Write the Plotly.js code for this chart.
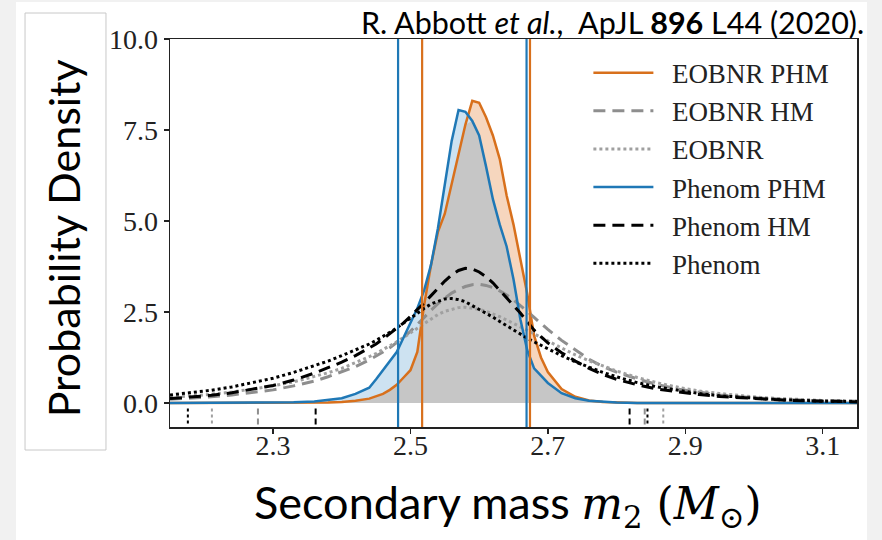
<!DOCTYPE html>
<html>
<head>
<meta charset="utf-8">
<script src="https://cdn.plot.ly/plotly-3.0.1.min.js"></script>
<style>html,body{margin:0;padding:0;background:#f1f1f1;}#chart{width:882px;height:540px;}</style>
</head>
<body>
<div id="chart"></div>
<script>
// Secondary mass grid (M_sun)
const massGrid = [2.15,2.18,2.21,2.24,2.27,2.30,2.33,2.36,2.38,2.40,
  2.42,2.44,2.45,2.46,2.47,2.48,2.49,2.50,2.51,2.52,
  2.53,2.54,2.55,2.56,2.57,2.58,2.59,2.60,2.61,2.62,
  2.63,2.64,2.65,2.66,2.67,2.68,2.69,2.70,2.72,2.74,
  2.76,2.78,2.80,2.83,2.86,2.89,2.92,2.95,2.98,3.01,
  3.04,3.07,3.10,3.15];

const eobnrPHM = [0,0,0,0,0,0,0,0,0.01,0.03,
  0.06,0.12,0.18,0.25,0.36,0.5,0.7,0.9,1.4,2.7,
  3.8,4.7,5.2,6.0,6.8,7.65,8.3,8.25,7.85,7.35,
  6.7,5.7,4.9,4.0,3.0,1.85,1.25,0.85,0.38,0.17,
  0.07,0.03,0.01,0,0,0,0,0,0,0,
  0,0,0,0];

const eobnrHM = [0.1,0.13,0.17,0.22,0.28,0.36,0.47,0.6,0.72,0.85,
  1.0,1.18,1.28,1.4,1.52,1.65,1.8,1.97,2.15,2.35,
  2.55,2.73,2.88,3.02,3.12,3.2,3.25,3.26,3.23,3.17,
  3.08,2.97,2.83,2.68,2.52,2.35,2.18,2.02,1.72,1.45,
  1.2,1.0,0.85,0.66,0.5,0.38,0.29,0.22,0.17,0.13,
  0.1,0.08,0.06,0.05];

const eobnr = [0.15,0.19,0.24,0.3,0.38,0.47,0.58,0.72,0.83,0.95,
  1.1,1.27,1.36,1.46,1.57,1.68,1.8,1.93,2.06,2.19,
  2.32,2.43,2.52,2.58,2.62,2.63,2.61,2.57,2.52,2.45,
  2.37,2.28,2.19,2.1,2.0,1.9,1.8,1.7,1.5,1.32,
  1.16,1.01,0.88,0.7,0.55,0.43,0.33,0.26,0.2,0.15,
  0.12,0.09,0.07,0.05];

const phenomPHM = [0,0,0,0,0,0.01,0.02,0.04,0.08,0.13,
  0.25,0.42,0.65,0.9,1.12,1.4,1.8,2.2,2.6,3.1,
  3.8,4.8,6.0,7.2,8.05,8.0,7.75,7.35,6.5,5.6,
  4.9,4.3,3.4,2.3,1.45,0.95,0.75,0.55,0.27,0.13,
  0.06,0.03,0.01,0,0,0,0,0,0,0,
  0,0,0,0];

const phenomHM = [0.12,0.16,0.21,0.28,0.37,0.48,0.63,0.82,0.97,1.12,
  1.3,1.5,1.62,1.76,1.9,2.05,2.2,2.38,2.56,2.75,
  2.95,3.15,3.35,3.52,3.64,3.7,3.68,3.6,3.47,3.3,
  3.1,2.9,2.68,2.47,2.25,2.0,1.82,1.65,1.38,1.15,
  0.95,0.78,0.65,0.5,0.38,0.3,0.23,0.18,0.14,0.11,
  0.08,0.06,0.05,0.03];

const phenom = [0.22,0.28,0.35,0.44,0.55,0.68,0.84,1.02,1.15,1.3,
  1.45,1.62,1.72,1.82,1.94,2.06,2.2,2.34,2.48,2.6,
  2.72,2.8,2.86,2.87,2.84,2.78,2.68,2.58,2.47,2.36,
  2.24,2.12,2.0,1.88,1.78,1.68,1.58,1.48,1.3,1.13,
  0.98,0.84,0.72,0.56,0.44,0.34,0.26,0.2,0.15,0.12,
  0.09,0.07,0.05,0.04];

// 90% credible bounds
const eobnrPHMBounds = [2.517, 2.674];
const phenomPHMBounds = [2.482, 2.669];
const eobnrHMBounds = [2.278, 2.841];
const eobnrBounds = [2.211, 2.868];
const phenomHMBounds = [2.362, 2.819];
const phenomBounds = [2.176, 2.845];

const seriesNames = ['EOBNR PHM','EOBNR HM','EOBNR','Phenom PHM','Phenom HM','Phenom'];
const xTicks = [2.3, 2.5, 2.7, 2.9, 3.1];
const yTicks = [0, 2.5, 5, 7.5, 10];

const ORANGE = '#d8701c', BLUE = '#1f78b6', GRAYD = '#8e8e8e', GRAYT = '#a0a0a0', BLACK = '#000000';
const GAP = '\u2002';

const overlap = massGrid.map((_, i) => Math.min(eobnrPHM[i], phenomPHM[i]));

function rug(bounds, color, dash, width) {
  return {x: [bounds[0], bounds[0], null, bounds[1], bounds[1]],
          y: [-0.15, -0.62, null, -0.15, -0.62],
          mode: 'lines', line: {color: color, dash: dash, width: width},
          showlegend: false, hoverinfo: 'skip'};
}

const traces = [
  {x: massGrid, y: eobnrPHM, fill: 'tozeroy', fillcolor: '#f6d6be', mode: 'none', showlegend: false, hoverinfo: 'skip'},
  {x: massGrid, y: phenomPHM, fill: 'tozeroy', fillcolor: '#cde2f1', mode: 'none', showlegend: false, hoverinfo: 'skip'},
  {x: massGrid, y: overlap, fill: 'tozeroy', fillcolor: '#c6c6c6', mode: 'none', showlegend: false, hoverinfo: 'skip'},
  {x: massGrid, y: eobnrPHM, name: GAP + seriesNames[0], mode: 'lines', line: {color: ORANGE, width: 2.5}},
  {x: massGrid, y: eobnrHM, name: GAP + seriesNames[1], mode: 'lines', line: {color: GRAYD, width: 3, dash: '12px,7px'}},
  {x: massGrid, y: eobnr, name: GAP + seriesNames[2], mode: 'lines', line: {color: GRAYT, width: 3, dash: 'dot'}},
  {x: massGrid, y: phenomPHM, name: GAP + seriesNames[3], mode: 'lines', line: {color: BLUE, width: 2.5}},
  {x: massGrid, y: phenomHM, name: GAP + seriesNames[4], mode: 'lines', line: {color: BLACK, width: 3, dash: '12px,7px'}},
  {x: massGrid, y: phenom, name: GAP + seriesNames[5], mode: 'lines', line: {color: BLACK, width: 3, dash: 'dot'}},
  rug(eobnrHMBounds, GRAYD, '6px,4px', 2),
  rug(eobnrBounds, GRAYT, 'dot', 2),
  rug(phenomHMBounds, BLACK, '6px,4px', 2),
  rug(phenomBounds, BLACK, 'dot', 2)
];

const shapes = [
  {type: 'rect', xref: 'paper', yref: 'paper', x0: -0.2242, x1: 1.0146, y0: -0.30, y1: 1.0954, fillcolor: '#ffffff', line: {width: 0}, layer: 'below'},
  {type: 'rect', xref: 'paper', yref: 'paper', x0: -0.211, x1: -0.0932, y0: -0.0593, y1: 1.067, fillcolor: 'rgba(0,0,0,0)', line: {color: '#c8c8c8', width: 1}, layer: 'below'}
];
phenomPHMBounds.forEach(b => shapes.push({type: 'line', xref: 'x', yref: 'paper', x0: b, x1: b, y0: 0, y1: 1, line: {color: BLUE, width: 2.2}}));
eobnrPHMBounds.forEach(b => shapes.push({type: 'line', xref: 'x', yref: 'paper', x0: b, x1: b, y0: 0, y1: 1, line: {color: ORANGE, width: 2.2}}));

const tickFont = {family: '"Liberation Serif", serif', size: 28, color: '#222'};

const layout = {
  width: 882, height: 540,
  paper_bgcolor: '#f1f1f1', plot_bgcolor: '#ffffff',
  margin: {l: 170, r: 25, t: 39, b: 113},
  showlegend: true,
  legend: {x: 0.609, y: 0.975, xanchor: 'left', yanchor: 'top', bgcolor: 'rgba(0,0,0,0)',
           font: {family: '"Liberation Serif", serif', size: 27, color: '#222'}, itemwidth: 60, traceorder: 'normal'},
  xaxis: {range: [2.15, 3.15], tickvals: xTicks, ticktext: xTicks.map(v => v.toFixed(1)),
          ticks: 'outside', ticklen: 5, tickwidth: 1.5, tickcolor: '#222', ticklabelstandoff: -12,
          showline: true, linecolor: '#222', linewidth: 1.5, mirror: true,
          showgrid: false, zeroline: false, tickfont: tickFont},
  yaxis: {range: [-0.66, 10], tickvals: yTicks, ticktext: yTicks.map(v => v.toFixed(1)),
          ticks: 'outside', ticklen: 5, tickwidth: 1.5, tickcolor: '#222',
          showline: true, linecolor: '#222', linewidth: 1.5, mirror: true,
          showgrid: false, zeroline: false, tickfont: tickFont},
  shapes: shapes,
  annotations: [
    {text: 'Probability Density', xref: 'paper', yref: 'paper', x: -0.155, y: 0.485, xanchor: 'center', yanchor: 'middle',
     textangle: -90, showarrow: false, font: {family: 'Lato, sans-serif', size: 43, color: '#000'}},
    {text: 'Secondary mass <span style="font-family:\'DejaVu Serif\',serif;font-size:44px"><i>m</i><sub>2</sub> (<i>M</i><sub>⊙</sub>)</span>',
     xref: 'paper', yref: 'paper', x: 0.492, y: -0.202, xanchor: 'center', yanchor: 'middle',
     showarrow: false, font: {family: 'Lato, sans-serif', size: 45, color: '#000'}},
    {text: 'R. Abbott <i>et al.</i>,  ApJL <b>896</b> L44 (2020).', xref: 'paper', yref: 'paper', x: 1.013, y: 1.044,
     xanchor: 'right', yanchor: 'middle', showarrow: false, font: {family: 'Lato, sans-serif', size: 30.5, color: '#000'}}
  ]
};

Plotly.newPlot('chart', traces, layout, {displayModeBar: false, staticPlot: true});
</script>
</body>
</html>
